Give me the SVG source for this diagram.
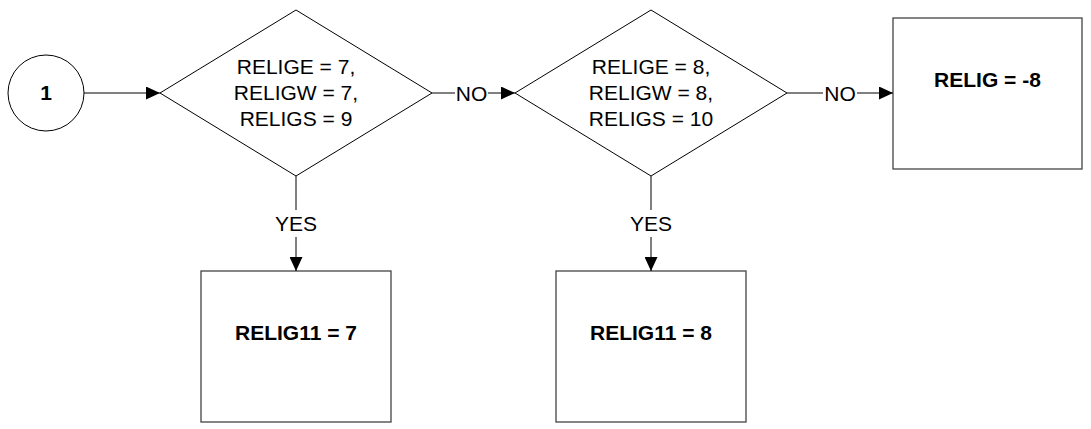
<svg xmlns="http://www.w3.org/2000/svg" width="1091" height="429" viewBox="0 0 1091 429">
<style>
.shape{fill:#fff;stroke:#000;stroke-width:1}
.box{fill:#fff;stroke:#444;stroke-width:1.3}
.conn{stroke:#000;stroke-width:1;fill:none}
.t{font-family:"Liberation Sans",Arial,sans-serif;font-size:21px;fill:#000;text-anchor:middle}
.b{font-weight:bold}
</style>
<defs>
<marker id="arr" markerUnits="userSpaceOnUse" markerWidth="14" markerHeight="13" refX="14" refY="6.5" orient="auto">
<path d="M0,0 L14,6.5 L0,13 z" fill="#000"/>
</marker>
</defs>
<rect width="1091" height="429" fill="#fff"/>
<g id="start">
<circle class="shape" cx="46" cy="93" r="38"/>
<text class="t b" x="46" y="100">1</text>
</g>
<g id="decision1">
<polygon class="shape" points="160,93 296,10 432,93 296,176"/>
<text class="t" x="296" y="74">RELIGE = 7,</text>
<text class="t" x="296" y="100">RELIGW = 7,</text>
<text class="t" x="296" y="125.5">RELIGS = 9</text>
</g>
<g id="decision2">
<polygon class="shape" points="515,93 651,10 787,93 651,176"/>
<text class="t" x="651" y="74">RELIGE = 8,</text>
<text class="t" x="651" y="100">RELIGW = 8,</text>
<text class="t" x="651" y="125.5">RELIGS = 10</text>
</g>
<g id="relig-8">
<rect class="box" x="893" y="18" width="189" height="151"/>
<text class="t b" x="987.5" y="87">RELIG = -8</text>
</g>
<g id="relig11-7">
<rect class="box" x="201" y="271" width="190" height="151"/>
<text class="t b" x="296" y="340">RELIG11 = 7</text>
</g>
<g id="relig11-8">
<rect class="box" x="556" y="271" width="190" height="151"/>
<text class="t b" x="651" y="340">RELIG11 = 8</text>
</g>
<g id="connectors">
<line class="conn" x1="84" y1="93" x2="160" y2="93" marker-end="url(#arr)"/>
<line class="conn" x1="432" y1="93" x2="455" y2="93"/>
<text class="t" x="471.5" y="100.5">NO</text>
<line class="conn" x1="488" y1="93" x2="515" y2="93" marker-end="url(#arr)"/>
<line class="conn" x1="787" y1="93" x2="823" y2="93"/>
<text class="t" x="840" y="100.5">NO</text>
<line class="conn" x1="857" y1="93" x2="893" y2="93" marker-end="url(#arr)"/>
<line class="conn" x1="296" y1="176" x2="296" y2="210"/>
<text class="t" x="296" y="231">YES</text>
<line class="conn" x1="296" y1="237" x2="296" y2="271" marker-end="url(#arr)"/>
<line class="conn" x1="651" y1="176" x2="651" y2="210"/>
<text class="t" x="651" y="231">YES</text>
<line class="conn" x1="651" y1="237" x2="651" y2="271" marker-end="url(#arr)"/>
</g>
</svg>
